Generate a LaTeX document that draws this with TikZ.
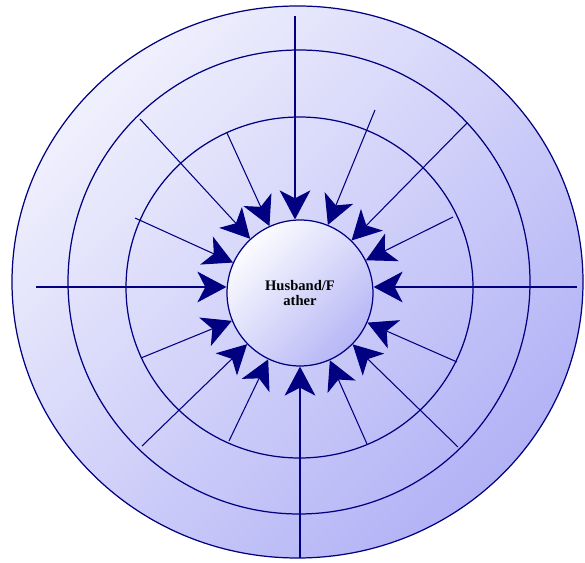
\documentclass[tikz,border=0pt]{standalone}
\usepackage{fontspec}
\setmainfont{Liberation Serif}
\usetikzlibrary{arrows.meta}

\definecolor{navy}{RGB}{0,0,128}
\definecolor{discLight}{RGB}{240,240,253}
\definecolor{discDark}{RGB}{178,178,246}
\definecolor{hubLight}{RGB}{252,252,255}
\definecolor{hubDark}{RGB}{182,182,246}

\begin{document}
\begin{tikzpicture}[
  x=0.02cm, y=-0.02cm,
  ring/.style={draw=navy, line width=0.7pt},
  hb/.style={circle, draw=navy, line width=0.7pt, top color=hubLight,
             bottom color=hubDark, shading angle=45, minimum size=2.92cm,
             inner sep=0pt, align=center,
             font=\fontsize{8.3}{9}\selectfont\bfseries},
  ar/.style={-{Stealth[length=16.5pt, width=17.5pt, inset=4.5pt]},
             draw=navy, line width=0.6pt}
]
\useasboundingbox (0,0) rectangle (585,563);

% rings
\path[ring, top color=discLight, bottom color=discDark, shading angle=45]
  (297.5,282) ellipse [x radius=285.5, y radius=276];
\draw[ring] (299,282) ellipse [x radius=231, y radius=232];
\draw[ring] (299.5,287.5) ellipse [x radius=173.5, y radius=170.5];

\node[hb] (hub) at (300,293) {Husband/F\\ather};

% start points
\coordinate (pN)    at (295,16);
\coordinate (pNNE)  at (375,110);
\coordinate (pNE)   at (467,123);
\coordinate (pENE)  at (453,217);
\coordinate (pE)    at (577,287);
\coordinate (pESE)  at (457,362);
\coordinate (pSE)   at (458,447);
\coordinate (pSSE)  at (367,444);
\coordinate (pS)    at (300,558);
\coordinate (pSSW)  at (229,441);
\coordinate (pSW)   at (142,446);
\coordinate (pWSW)  at (141,358);
\coordinate (pW)    at (36,287);
\coordinate (pWNW)  at (135,218);
\coordinate (pNW)   at (140,119);
\coordinate (pNNW)  at (227,133);

% arrows
\draw[ar] (pN) -- (pN |- hub.north);
\draw[ar] (pNNE) -- (hub);
\draw[ar] (pNE) -- (hub);
\draw[ar] (pENE) -- (hub);
\draw[ar] (pE) -- (pE -| hub.east);
\draw[ar] (pESE) -- (hub);
\draw[ar] (pSE) -- (hub);
\draw[ar] (pSSE) -- (hub);
\draw[ar] (pS) -- (hub.south);
\draw[ar] (pSSW) -- (hub);
\draw[ar] (pSW) -- (hub);
\draw[ar] (pWSW) -- (hub);
\draw[ar] (pW) -- (pW -| hub.west);
\draw[ar] (pWNW) -- (hub);
\draw[ar] (pNW) -- (hub);
\draw[ar] (pNNW) -- (hub);
\end{tikzpicture}
\end{document}
